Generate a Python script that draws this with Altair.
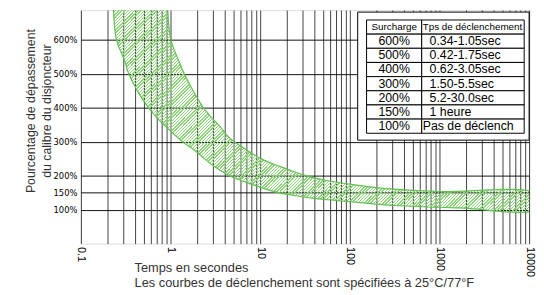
import altair as alt
import pandas as pd
import math

# ---- data -------------------------------------------------------------
# shortest trip time edge of the band (time in s, load in %)
min_time = [0.23, 0.249, 0.31, 0.343, 0.569, 0.888, 1.356, 1.82, 3.02, 4.60, 7.02,
            10.7, 16.3, 24.9, 37.9, 57.3, 113.5, 312.6, 1686, 12000]
min_pct = [700, 600, 536, 498, 399, 344, 300, 276, 228, 199, 180,
           163, 149, 141, 134, 129, 122, 112, 105, 101]
# longest trip time edge of the band
max_time = [0.927, 1.008, 1.246, 1.43, 2.34, 3.57, 4.56, 7.02, 10.7, 16.2, 24.9,
            37.9, 57.3, 113.5, 312.6, 1019, 12000]
max_pct = [700, 600, 536, 498, 399, 344, 311, 276, 247, 228, 210,
           195, 185, 173, 160, 153, 146]

y_ticks = [100, 150, 200, 300, 400, 500, 600]
x_decades = ["0.1", "1", "10", "100", "1000", "10000"]
x_grid = [d * 10.0 ** k for k in range(-1, 4) for d in range(1, 10)] + [10000]

surcharge = ["Surcharge", "600%", "500%", "400%", "300%", "200%", "150%", "100%"]
tps = ["Tps de déclenchement", "0.34-1.05sec", "0.42-1.75sec", "0.62-3.05sec",
       "1.50-5.5sec", "5.2-30.0sec", "1 heure", "Pas de déclenchement"]

# ---- tables -------------------------------------------------------------
pts = [(t, p) for t, p in zip(min_time, min_pct)] + \
      [(t, p) for t, p in reversed(list(zip(max_time, max_pct)))]
band_df = pd.DataFrame({"t": [a for a, _ in pts], "pct": [b for _, b in pts],
                        "i": list(range(len(pts)))})
table_df = pd.DataFrame({"idx": list(range(len(surcharge))),
                         "surcharge": surcharge, "tps": tps})

W, H = 455, 237
YMAX = 687
FONT = "Liberation Sans"

# hatch pattern as a striped gradient (style only)
def px(t):
    return (math.log10(t) + 1) / 5 * W

def py(p):
    return H * (1 - p / YMAX)

bw = px(max(min_time)) - px(min(min_time))
bh = py(min(min_pct + max_pct)) - py(max(min_pct + max_pct))
b = bh / bw
k = (1 + b) / (1 + b * b)
n = int((bw + bh) / 3.2)
clear = "rgba(255,255,255,0)"
green = "#8dd47b"
stops = []
for i in range(n):
    stops.append(alt.GradientStop(color=green, offset=i / n))
    stops.append(alt.GradientStop(color=green, offset=(i + 0.45) / n))
    stops.append(alt.GradientStop(color=clear, offset=(i + 0.45) / n))
    stops.append(alt.GradientStop(color=clear, offset=(i + 1) / n))
hatch = alt.LinearGradient(gradient="linear", stops=stops, x1=0, y1=0, x2=k, y2=k * b)

band = alt.Chart(band_df).mark_line(
    fill=hatch, stroke="#62bf52", strokeWidth=1.2, clip=True, interpolate="catmull-rom"
).encode(
    x=alt.X("t:Q", scale=alt.Scale(type="log", domain=[0.1, 10000], nice=False),
            axis=alt.Axis(values=x_grid, format=".1~f",
                          labelExpr="indexof(" + str(x_decades).replace(" ", "") + ", datum.label) >= 0 ? datum.label : ''",
                          labelAngle=90, labelFont=FONT, labelFontSize=11, labelColor="#000",
                          labelPadding=3, labelOverlap=False, labelFlush=False,
                          grid=True, gridColor="#222", gridWidth=1, gridOpacity=0.85,
                          ticks=False, domain=False,
                          title=["Temps en secondes",
                                 "Les courbes de déclenchement sont spécifiées à 25°C/77°F"],
                          titleFont=FONT, titleFontSize=13, titleFontWeight="normal",
                          titleColor="#333", titleAlign="left", titleAnchor="start",
                          titleAngle=0, titleBaseline="middle", titleLineHeight=15.5,
                          titleX=54, titleY=24)),
    y=alt.Y("pct:Q", scale=alt.Scale(domain=[0, YMAX], nice=False, zero=False),
            axis=alt.Axis(values=y_ticks, labelExpr="datum.value + '%'",
                          labelFont="DejaVu Sans", labelFontSize=8.5, labelColor="#000",
                          labelPadding=4, grid=True, gridColor="#111", gridWidth=1,
                          ticks=False, domain=False,
                          title=["Pourcentage de dépassement", "du calibre du disjoncteur"],
                          titleFont=FONT, titleFontSize=12.5, titleFontWeight="normal",
                          titleColor="#333", titleAlign="center", titleAngle=-90,
                          titleBaseline="middle", titleLineHeight=16,
                          titleX=-51, titleY=102)),
    order="i:Q",
)

rowy = alt.Y("idx:O", scale=alt.Scale(domain=list(range(len(surcharge))), range=[10, 125],
                                      paddingInner=0, paddingOuter=0), axis=None)
base = alt.Chart(table_df)
box = base.transform_filter("datum.idx == 0").mark_rect(
    fill="white", stroke="#000", strokeWidth=1
).encode(x=alt.value(281), x2=alt.value(455), y=alt.value(2), y2=alt.value(132))
cell1 = base.mark_rect(fill="white", stroke="#000", strokeWidth=1).encode(
    x=alt.value(290), x2=alt.value(346), y=rowy)
cell2 = base.mark_rect(fill="white", stroke="#000", strokeWidth=1).encode(
    x=alt.value(346), x2=alt.value(450), y=rowy)
txt1 = base.mark_text(font=FONT, color="#000", align="center", baseline="middle").encode(
    x=alt.value(318), y=rowy, text="surcharge:N",
    size=alt.condition("datum.idx == 0", alt.value(10), alt.value(12.5)))
txt2 = base.transform_filter("datum.idx > 0 && datum.idx < 7").mark_text(
    font=FONT, color="#000", align="left", baseline="middle", fontSize=12.5
).encode(x=alt.value(354), y=rowy, text="tps:N")
txt_head = base.transform_filter("datum.idx == 0").mark_text(
    font=FONT, color="#000", align="left", baseline="middle", fontSize=10
).encode(x=alt.value(347), y=rowy, text="tps:N")
txt_last = base.transform_filter("datum.idx == 7").mark_text(
    font=FONT, color="#000", align="left", baseline="middle", fontSize=12.5,
    limit=96, ellipsis="\u200b"
).encode(x=alt.value(347), y=rowy, text="tps:N")

table = alt.layer(box, cell1, cell2, txt1, txt2, txt_head, txt_last)

chart = alt.layer(band, table).resolve_scale(y="independent").properties(
    width=W, height=H,
    autosize=alt.AutoSizeParams(type="none"),
    padding={"left": 74, "top": 0, "right": 7, "bottom": 47},
).configure_view(stroke="#000", strokeWidth=1).configure(background="white")

chart.save("out.html", embed_options={"renderer": "svg", "actions": False})
